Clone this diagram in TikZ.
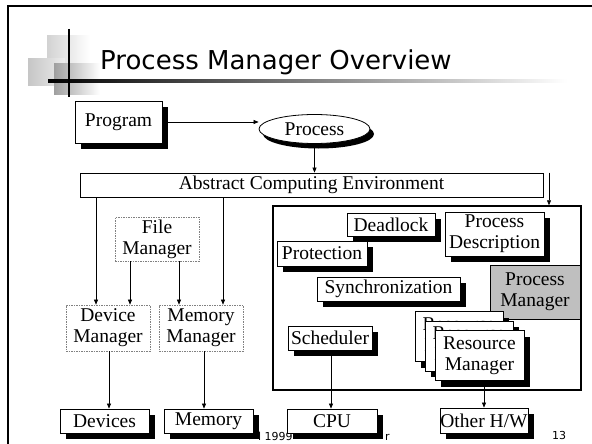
\documentclass[tikz,border=0pt]{standalone}
\usepackage{fontspec}
\setmainfont{Liberation Serif}
\newfontfamily\titlefont{DejaVu Sans}
\usetikzlibrary{shapes.geometric,shadows,arrows.meta}
\begin{document}
\begin{tikzpicture}[x=1pt,y=-1pt,
  box/.style={draw=black,line width=0.8pt,fill=white,inner sep=0pt,align=center,font=\fontsize{19.5}{21}\selectfont},
  shbox/.style={box,drop shadow={shadow xshift=6pt,shadow yshift=-6pt,fill=black,opacity=1}},
  dbox/.style={box,draw=gray,dash pattern=on 1.5pt off 1pt,line width=0.7pt},
  arr/.style={line width=0.6pt,-{Triangle[length=5pt,width=4pt]}},
  foot/.style={anchor=base west,inner sep=0pt,font=\titlefont\fontsize{11}{13}\selectfont},
]
\useasboundingbox (0,0) rectangle (592,444);
\fill[white] (0,0) rectangle (592,444);
% slide frame
\draw[line width=2.5pt] (592,6) -- (8,6) -- (8,444);
% title decoration
\shade[left color=gray!35,right color=white] (47,36) rectangle (90,79);
\shade[left color=gray!45,right color=gray!15] (28,59) rectangle (65,86);
\shade[left color=gray!75,right color=white] (54,64) rectangle (100,95);
\shade[left color=black,right color=white] (48,80) rectangle (567,82.5);
\draw[line width=2.5pt] (69,29) -- (69,97);
\node[anchor=base west,inner sep=0pt,font=\titlefont\fontsize{26}{30}\selectfont] (title) at (100,70) {Process Manager Overview};
% footer (partly hidden)
\node[foot] (f1) at (258,440) {l 1999};
\node[foot] (f2) at (385,440) {r};
\node[foot] (pg) at (552,439) {13};
% top
\node[shbox,minimum width=87pt,minimum height=42pt] (Program) at (118.5,122) {Program};
\node[ellipse,draw,line width=0.8pt,fill=white,minimum width=111pt,minimum height=29pt,inner sep=0pt,font=\fontsize{19.5}{21}\selectfont,drop shadow={shadow xshift=4pt,shadow yshift=-5pt,fill=black,opacity=1}] (Process) at (314.5,129) {Process};
\node[box,minimum width=463pt,minimum height=24pt] (ACE) at (311.5,185) {Abstract Computing Environment};
% left
\node[dbox,minimum width=84pt,minimum height=44pt] (FileMgr) at (157,239) {File\\Manager};
\node[dbox,minimum width=84pt,minimum height=46pt] (DevMgr) at (108,328) {Device\\Manager};
\node[dbox,minimum width=84pt,minimum height=46pt] (MemMgr) at (201,328) {Memory\\Manager};
\node[shbox,minimum width=89pt,minimum height=24pt] (Devices) at (104.5,421) {Devices};
\node[shbox,minimum width=89pt,minimum height=24pt] (Memory) at (208.5,421) {Memory};
% right big box
\node[draw,line width=1.5pt,minimum width=308pt,minimum height=184pt,inner sep=0pt] (Big) at (427,298) {};
\node[shbox,minimum width=88pt,minimum height=23pt] (Deadlock) at (391,224.5) {Deadlock};
\node[shbox,minimum width=99pt,minimum height=44pt] (PDesc) at (494.5,234) {Process\\Description};
\node[shbox,minimum width=90pt,minimum height=25pt] (Protection) at (322,253.5) {Protection};
\node[shbox,minimum width=143pt,minimum height=24pt] (Sync) at (388.5,289) {Synchronization};
\node[box,fill=gray!50,minimum width=90pt,minimum height=54pt] (PMgr) at (535,292) {Process\\Manager};
\node[shbox,minimum width=84pt,minimum height=24pt] (Sched) at (330,338) {Scheduler};
\node[shbox,minimum width=88pt,minimum height=50pt] (RM1) at (459,336.5) {Resource\\Manager};
\node[shbox,minimum width=88pt,minimum height=50pt] (RM2) at (469,346) {Resource\\Manager};
\node[shbox,minimum width=89pt,minimum height=50pt] (RM3) at (479.5,355.5) {Resource\\Manager};
\node[shbox,minimum width=90pt,minimum height=24pt] (CPU) at (332,421) {CPU};
\node[shbox,minimum width=88pt,minimum height=25pt] (Other) at (484,420.5) {Other H/W};
% connectors
\draw[arr] (Program.east) -- (Program.east -| Process.west);
\draw[arr] (Process.south) -- (Process.south |- ACE.north);
\coordinate (a1) at (96,0);
\coordinate (a2) at (130,0);
\coordinate (a3) at (179,0);
\coordinate (a4) at (223,0);
\coordinate (a5) at (109,0);
\coordinate (a6) at (204,0);
\coordinate (a7) at (331,0);
\coordinate (a8) at (484,0);
\coordinate (a9) at (549,0);
\draw[arr] (a1 |- ACE.south) -- (a1 |- DevMgr.north);
\draw[arr] (a2 |- FileMgr.south) -- (a2 |- DevMgr.north);
\draw[arr] (a3 |- FileMgr.south) -- (a3 |- MemMgr.north);
\draw[arr] (a4 |- ACE.south) -- (a4 |- MemMgr.north);
\draw[arr] (a5 |- DevMgr.south) -- (a5 |- Devices.north);
\draw[arr] (a6 |- MemMgr.south) -- (a6 |- Memory.north);
\draw[arr] (a7 |- Sched.south) -- (a7 |- CPU.north);
\draw[arr] (a8 |- RM3.south) -- (a8 |- Other.north);
\draw[arr] (a9 |- ACE.north) -- (a9 |- Big.north);
\end{tikzpicture}
\end{document}
